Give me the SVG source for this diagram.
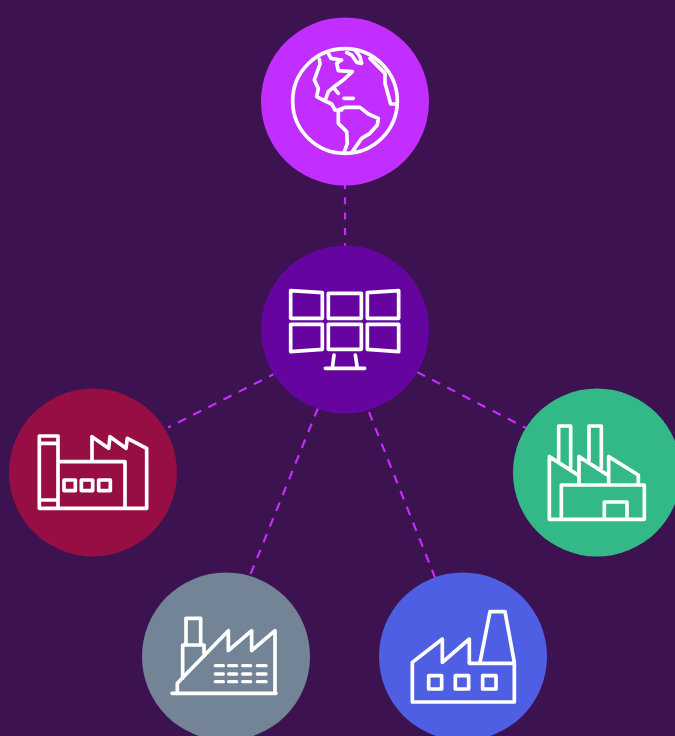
<svg xmlns="http://www.w3.org/2000/svg" width="675" height="736" viewBox="0 0 675 736">
<style>
.i{fill:none;stroke:#fff;stroke-width:11;stroke-linejoin:round;stroke-linecap:round}
.c{fill:none;stroke:#c22eff;stroke-width:2.200;stroke-dasharray:9 8}
</style>
<rect width="675" height="736" fill="#3c1250"/>
<g id="connectors">
<path class="c" style="stroke-dasharray:7 8.300;stroke-dashoffset:3" d="M345 185V246"/>
<path class="c" style="stroke-dashoffset:4" d="M273.500 374.300L168 427.500"/>
<path class="c" d="M417 372L528 429"/>
<path class="c" d="M318 408L249 578"/>
<path class="c" d="M369 412L436 580"/>
</g>
<g id="globe">
<circle cx="345" cy="101.500" r="84" fill="#c22eff"/>
<g transform="translate(270 30) scale(.33333)">
<circle class="i" cx="225" cy="213" r="157"/>
<path class="i" d="M148 88L150 102L133 150L145 175L140 200L165 213L185 222L195 240L215 240M205 240L225 232L270 232L295 252L325 265L322 285L300 310L275 325L245 368M205 240L205 280L230 305L232 340L222 368M165 213L175 185L190 172L205 190M190 172L220 150L247 125L205 122L200 100L215 90L183 85L175 70M230 68L245 75L260 97L275 100L270 80L255 60M300 85L345 130L345 160L362 222L378 222M222 205H250"/>
</g>
</g>
<g id="monitors">
<circle cx="345" cy="329.500" r="84" fill="#66049f"/>
<g transform="translate(270 270) scale(.33333)">
<path class="i" d="M62 62L157 68V145H62ZM175 70H274V145H175ZM292 68L386 62V145H292ZM62 163H157V238L62 245ZM175 163H274V238H175ZM292 163H386V245L292 238ZM192 255L187 295M256 255L262 295M166 295H284"/>
</g>
</g>
<g id="factory-red">
<circle cx="93" cy="472.500" r="84" fill="#970e45"/>
<g transform="translate(20 420) scale(.33333)">
<path class="i" d="M58 48H114V265H58ZM58 70H114M58 240H114M114 125H315V265M114 265H380V85L322 55L318 85L270 50L266 85L216 50V125"/>
<path class="i" d="M132 180H166V212H132ZM184 180H218V212H184ZM236 180H271V212H236Z"/>
</g>
</g>
<g id="factory-green">
<circle cx="597" cy="472.500" r="84" fill="#33b987"/>
<g transform="translate(530 415) scale(.33333)">
<path class="i" d="M58 125V313H343V210H94V313M58 125L147 182V210M147 125L236 182V210M147 125V182M236 125L325 180V210M236 125V182M86 135V33H122V158M177 135V33H214V158M223 310V261H291V310"/>
</g>
</g>
<g id="factory-grey">
<circle cx="226" cy="656.500" r="84" fill="#748497"/>
<g transform="translate(160 610) scale(.33333)">
<path class="i" d="M36 250H348M52 248V220L205 62V122L275 62V122L345 62V248M68 205V105H132V130M78 100V25H122V100M68 105H132"/>
<path class="i" style="stroke-width:10" d="M166 167H190M206 167H230M248 167H272M292 167H318M166 192H190M206 192H230M248 192H272M292 192H318M166 215H190M206 215H230M248 215H272M292 215H318"/>
</g>
</g>
<g id="factory-blue">
<circle cx="463" cy="656.500" r="84" fill="#4f5fe3"/>
<g transform="translate(400 605) scale(.33333)">
<path class="i" d="M37 172V291H343V175H208V102L127 172V102L37 172M240 172L270 20H315L343 172"/>
<path class="i" d="M86 212H125V252H86ZM166 212H206V252H166ZM248 212H288V252H248Z"/>
</g>
</g>
</svg>
